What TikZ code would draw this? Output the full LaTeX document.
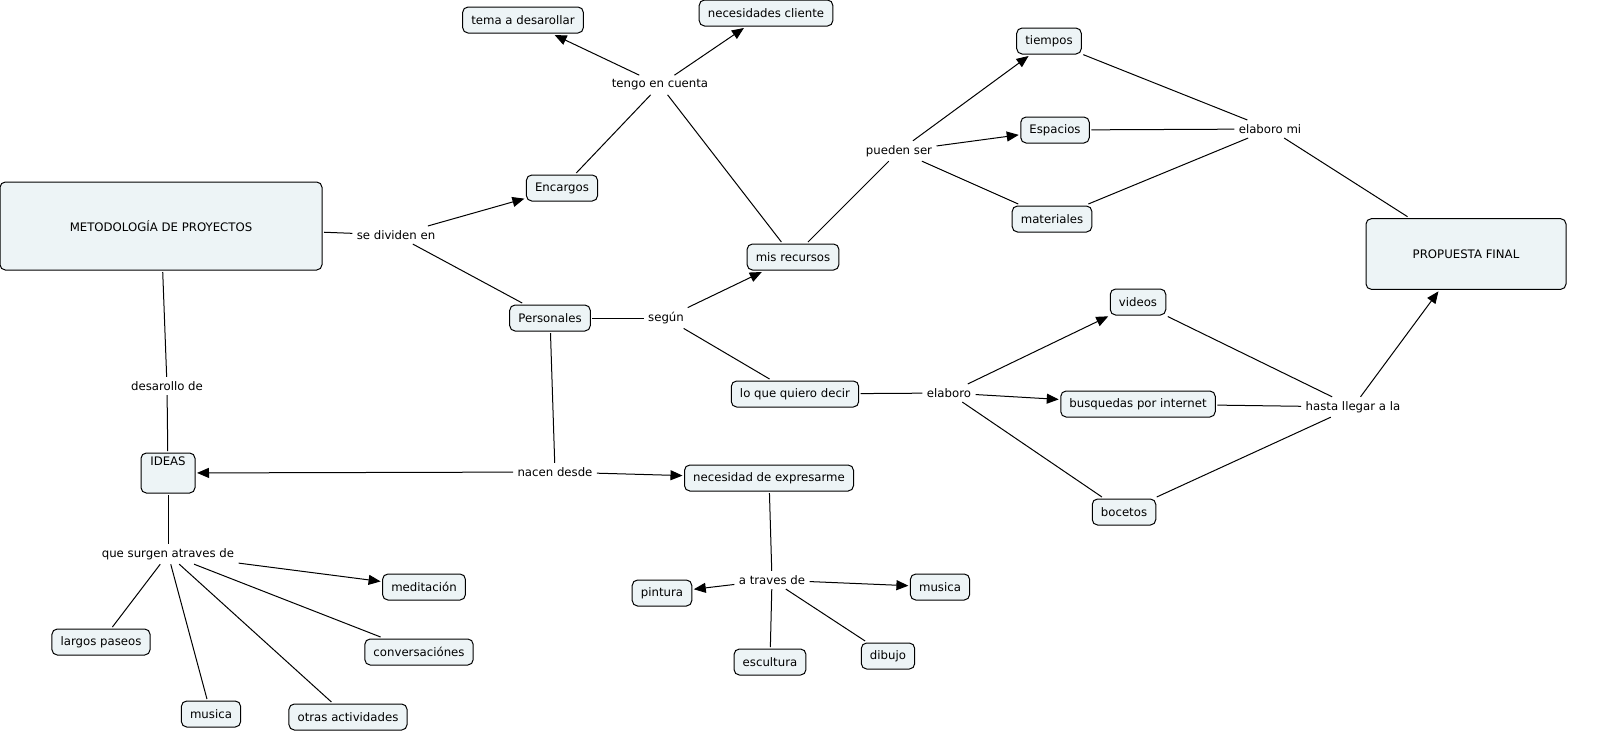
\documentclass[tikz,border=0pt]{standalone}
\usepackage{fontspec}
\setmainfont{DejaVu Sans}
\usetikzlibrary{arrows.meta}
\definecolor{cmapfill}{RGB}{237,244,246}

\begin{document}
\begin{tikzpicture}[x=0.75pt,y=-0.75pt,font=\fontsize{8.8}{10}\selectfont,line width=0.75pt,
    >={Triangle[length=9pt,width=7.5pt]},
    concepto/.style={draw,rounded corners=4pt,fill=cmapfill,inner xsep=6.5pt,minimum height=19.5pt,outer sep=1.5pt},
    enlace/.style={inner sep=3pt}]
    \useasboundingbox (0,0) rectangle (1616,754);

    % conceptos
    \node[concepto,minimum width=241.5pt,minimum height=66pt] (metodo) at (161,226) {METODOLOGÍA DE PROYECTOS};
    \node[concepto,minimum width=150pt,minimum height=53pt] (final) at (1466,254) {PROPUESTA FINAL};
    \node[concepto,minimum width=40.5pt,text height=6.5pt,text depth=17.5pt,inner ysep=3pt] (ideas) at (168,473) {IDEAS};
    \node[concepto] (encargos) at (562,188) {Encargos};
    \node[concepto] (tema) at (523,20) {tema a desarollar};
    \node[concepto] (cliente) at (766,13) {necesidades cliente};
    \node[concepto] (personales) at (550,318) {Personales};
    \node[concepto] (recursos) at (793,257) {mis recursos};
    \node[concepto] (tiempos) at (1049,41) {tiempos};
    \node[concepto] (espacios) at (1055,130) {Espacios};
    \node[concepto] (materiales) at (1052,219) {materiales};
    \node[concepto] (videos) at (1138,302) {videos};
    \node[concepto] (decir) at (795,394) {lo que quiero decir};
    \node[concepto] (internet) at (1138,404) {busquedas por internet};
    \node[concepto] (bocetos) at (1124,512) {bocetos};
    \node[concepto] (expresarme) at (769,478) {necesidad de expresarme};
    \node[concepto] (pintura) at (662,593) {pintura};
    \node[concepto] (musicaB) at (940,587) {musica};
    \node[concepto] (escultura) at (770,662) {escultura};
    \node[concepto] (dibujo) at (888,656) {dibujo};
    \node[concepto] (meditacion) at (424,587) {meditación};
    \node[concepto] (paseos) at (101,642) {largos paseos};
    \node[concepto] (conversaciones) at (419,652) {conversaciónes};
    \node[concepto] (musicaA) at (211,714) {musica};
    \node[concepto] (otras) at (348,717) {otras actividades};

    % frases de enlace
    \node[enlace] (dividen) at (396,235) {se dividen en};
    \node[enlace] (cuenta) at (660,85) {tengo en cuenta};
    \node[enlace] (segun) at (666,318) {según};
    \node[enlace] (pueden) at (899,151) {pueden ser};
    \node[enlace] (elaboromi) at (1270,129) {elaboro mi};
    \node[enlace] (elaboro) at (949,393) {elaboro};
    \node[enlace] (hasta) at (1353,407) {hasta llegar a la};
    \node[enlace] (desarollo) at (167,386) {desarollo de};
    \node[enlace] (nacen) at (555,472) {nacen desde};
    \node[enlace] (surgen) at (168,554) {que surgen atraves de};
    \node[enlace] (traves) at (772,580) {a traves de};

    \draw (metodo)--(dividen);
    \draw[->] (dividen)--(encargos);
    \draw (dividen)--(personales);
    \draw (encargos)--(cuenta);
    \draw[->] (cuenta)--(tema);
    \draw[->] (cuenta)--(cliente);
    \draw (cuenta)--(recursos);
    \draw (personales)--(segun);
    \draw[->] (segun)--(recursos);
    \draw (segun)--(decir);

    \draw (recursos)--(pueden);
    \draw[->] (pueden)--(tiempos);
    \draw[->] (pueden)--(espacios);
    \draw (pueden)--(materiales);
    \draw (tiempos)--(elaboromi);
    \draw (espacios)--(elaboromi);
    \draw (materiales)--(elaboromi);
    \draw (elaboromi)--(final);

    \draw (decir)--(elaboro);
    \draw[->] (elaboro)--(videos);
    \draw[->] (elaboro)--(internet);
    \draw (elaboro)--(bocetos);
    \draw (videos)--(hasta);
    \draw (internet)--(hasta);
    \draw (bocetos)--(hasta);
    \draw[->] (hasta)--(final);

    \draw (metodo)--(desarollo)--(ideas);
    \draw (personales)--(nacen);
    \draw[->] (nacen)--(ideas);
    \draw[->] (nacen)--(expresarme);

    \draw (ideas)--(surgen);
    \draw[->] (surgen)--(meditacion);
    \draw (surgen)--(paseos);
    \draw (surgen)--(musicaA);
    \draw (surgen)--(otras);
    \draw (surgen)--(conversaciones);

    \draw (expresarme)--(traves);
    \draw[->] (traves)--(pintura);
    \draw[->] (traves)--(musicaB);
    \draw (traves)--(escultura);
    \draw (traves)--(dibujo);
\end{tikzpicture}
\end{document}
